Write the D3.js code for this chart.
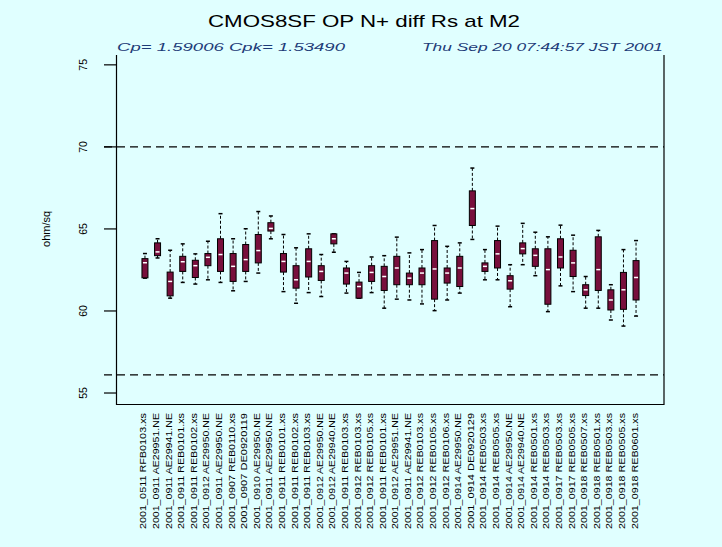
<!DOCTYPE html>
<html>
<head>
<meta charset="utf-8">
<script src="https://cdn.jsdelivr.net/npm/d3@7"></script>
<style>
  html, body { margin: 0; padding: 0; background: #e0ffff; }
  svg { display: block; }
  text { font-family: "Liberation Sans", Arial, sans-serif; }
</style>
</head>
<body>
<svg id="chart" width="722" height="547"></svg>
<script>
// Lot / wafer identifiers along the x axis
const lots = [
  "2001_0511 RFB0103.xs", "2001_0911 AE29951.NE", "2001_0911 AE29941.NE", "2001_0911 REB0101.xs",
  "2001_0911 REB0102.xs", "2001_0912 AE29950.NE", "2001_0911 AE29950.NE", "2001_0907 REB0110.xs",
  "2001_0907 DE0920119", "2001_0910 AE29950.NE", "2001_0911 AE29950.NE", "2001_0911 REB0101.xs",
  "2001_0911 REB0102.xs", "2001_0911 REB0103.xs", "2001_0912 AE29950.NE", "2001_0912 AE29940.NE",
  "2001_0911 REB0103.xs", "2001_0912 REB0103.xs", "2001_0912 REB0105.xs", "2001_0911 REB0101.xs",
  "2001_0912 AE29951.NE", "2001_0911 AE29941.NE", "2001_0912 REB0103.xs", "2001_0912 REB0105.xs",
  "2001_0912 REB0106.xs", "2001_0914 AE29950.NE", "2001_0914 DE0920129", "2001_0914 REB0503.xs",
  "2001_0914 REB0505.xs", "2001_0914 AE29950.NE", "2001_0914 AE29940.NE", "2001_0914 REB0501.xs",
  "2001_0914 REB0503.xs", "2001_0917 REB0503.xs", "2001_0917 REB0505.xs", "2001_0918 REB0507.xs",
  "2001_0918 REB0501.xs", "2001_0918 REB0503.xs", "2001_0918 REB0505.xs", "2001_0918 REB0601.xs"
];

// Five-number summaries per lot (ohm/sq)
const whiskerLow = [62.00, 63.23, 60.78, 61.74, 61.64, 61.90, 61.74, 61.23, 61.80, 62.31,
                    64.40, 61.18, 60.47, 61.12, 60.88, 63.58, 61.09, 60.78, 61.12, 60.17,
                    60.72, 60.67, 60.43, 60.02, 60.67, 61.09, 64.36, 61.90, 61.90, 60.26,
                    62.82, 62.15, 59.96, 61.53, 61.18, 60.17, 60.17, 59.45, 59.08, 59.69];
const q1         = [62.02, 63.37, 60.92, 62.41, 62.04, 62.76, 62.41, 61.80, 62.41, 62.93,
                    64.87, 62.37, 61.39, 62.07, 61.86, 64.09, 61.64, 60.78, 61.80, 61.25,
                    61.60, 61.60, 61.60, 60.72, 61.70, 61.49, 65.21, 62.41, 62.62, 61.33,
                    63.48, 62.72, 60.41, 62.62, 62.10, 60.94, 61.25, 60.06, 60.10, 60.67];
const medians    = [62.94, 63.60, 61.80, 63.00, 62.76, 63.27, 63.44, 62.72, 63.13, 63.68,
                    65.03, 63.02, 61.90, 63.02, 62.41, 64.40, 62.31, 61.49, 62.35, 62.10,
                    62.62, 62.00, 62.31, 62.56, 62.31, 62.62, 66.24, 62.72, 63.48, 61.84,
                    63.80, 63.39, 62.52, 63.29, 62.93, 61.29, 62.52, 60.67, 61.29, 62.04];
const q3         = [63.19, 64.15, 62.37, 63.33, 63.09, 63.50, 64.40, 63.50, 64.05, 64.66,
                    65.38, 63.50, 62.76, 63.79, 62.76, 64.70, 62.62, 61.76, 62.76, 62.72,
                    63.33, 62.31, 62.62, 64.29, 62.62, 63.33, 67.32, 62.93, 64.29, 62.15,
                    64.15, 63.79, 63.79, 64.40, 63.70, 61.60, 64.52, 61.29, 62.35, 63.07];
const whiskerHigh= [63.50, 64.40, 63.70, 64.09, 63.48, 64.25, 65.93, 64.40, 65.01, 66.06,
                    65.79, 64.66, 63.85, 64.70, 63.44, 64.70, 63.02, 62.35, 63.29, 63.37,
                    64.50, 63.54, 63.74, 65.21, 63.94, 64.15, 68.71, 63.74, 65.17, 62.82,
                    65.34, 64.80, 64.52, 65.23, 64.62, 62.10, 64.91, 61.60, 63.74, 64.29];

// Specification limits (dashed reference lines) and axis ticks
const specLimits = [70, 56.1];
const yTicks = [55, 60, 65, 70, 75];

const titleText = "CMOS8SF OP N+ diff Rs at M2";
const capText = "Cp= 1.59006   Cpk= 1.53490";
const dateText = "Thu Sep 20 07:44:57 JST 2001";
const yLabel = "ohm/sq";

const svg = d3.select("#chart");
const W = 722, H = 547;
const plotL = 116.5, plotR = 664, plotT = 55, plotB = 404.5;

svg.append("rect").attr("width", W).attr("height", H).attr("fill", "#e0ffff");

const x = d3.scaleLinear().domain([-1.26, 42.22]).range([plotL, plotR]);
const y = d3.scaleLinear().domain([54.3, 75.6]).range([plotB, plotT]);

const boxColor = "#780f3c";
const boxW = 6, capW = 4;

// Title and subtitles (wide device font, so glyphs are stretched)
svg.append("text").attr("x", 208).attr("y", 27)
  .attr("font-size", 17).attr("textLength", 312).attr("lengthAdjust", "spacingAndGlyphs")
  .attr("fill", "#000").text(titleText);
svg.append("text").attr("x", 117).attr("y", 51).attr("font-size", 10.5)
  .attr("font-style", "italic").attr("textLength", 228).attr("lengthAdjust", "spacingAndGlyphs")
  .attr("fill", "#1d3b78").text(capText);
svg.append("text").attr("x", 422).attr("y", 51).attr("font-size", 10.5)
  .attr("font-style", "italic").attr("textLength", 241).attr("lengthAdjust", "spacingAndGlyphs")
  .attr("fill", "#1d3b78").text(dateText);

// Frame: left, bottom and right sides
svg.append("path")
  .attr("d", `M${plotL},${plotT}V${plotB}H${plotR}V${plotT}`)
  .attr("fill", "none").attr("stroke", "#000").attr("stroke-width", 1.2);

// Y axis ticks and rotated labels
const yAxis = svg.append("g");
yTicks.forEach(t => {
  yAxis.append("line").attr("x1", 104).attr("x2", plotL).attr("y1", y(t)).attr("y2", y(t))
    .attr("stroke", "#000").attr("stroke-width", 1.2);
  yAxis.append("text").attr("transform", `translate(87,${y(t)}) rotate(-90)`)
    .attr("text-anchor", "middle").attr("font-size", 10.5).attr("fill", "#000").text(t);
});
svg.append("text").attr("transform", `translate(50,${y(65)}) rotate(-90)`)
  .attr("text-anchor", "middle").attr("font-size", 11).attr("fill", "#000").text(yLabel);

// Specification limit lines
specLimits.forEach(v => {
  svg.append("line").attr("x1", 104).attr("x2", plotR).attr("y1", y(v)).attr("y2", y(v))
    .attr("stroke", "#000").attr("stroke-width", 1.3).attr("stroke-dasharray", "8,5");
});

// Box plots
const boxes = svg.append("g").selectAll("g").data(lots).join("g")
  .attr("transform", (d, i) => `translate(${x(i + 1)},0)`);

boxes.append("line").attr("y1", (d, i) => y(q3[i])).attr("y2", (d, i) => y(whiskerHigh[i]))
  .attr("stroke", "#000").attr("stroke-dasharray", "3,2");
boxes.append("line").attr("y1", (d, i) => y(q1[i])).attr("y2", (d, i) => y(whiskerLow[i]))
  .attr("stroke", "#000").attr("stroke-dasharray", "3,2");
boxes.append("line").attr("x1", -capW / 2).attr("x2", capW / 2)
  .attr("y1", (d, i) => y(whiskerHigh[i])).attr("y2", (d, i) => y(whiskerHigh[i]))
  .attr("stroke", "#000").attr("stroke-width", 1.5);
boxes.append("line").attr("x1", -capW / 2).attr("x2", capW / 2)
  .attr("y1", (d, i) => y(whiskerLow[i])).attr("y2", (d, i) => y(whiskerLow[i]))
  .attr("stroke", "#000").attr("stroke-width", 1.5);
boxes.append("rect").attr("x", -boxW / 2).attr("width", boxW)
  .attr("y", (d, i) => y(q3[i])).attr("height", (d, i) => Math.max(1, y(q1[i]) - y(q3[i])))
  .attr("fill", boxColor).attr("stroke", "#000").attr("stroke-width", 1);
boxes.append("line").attr("x1", -boxW / 2 + 1).attr("x2", boxW / 2 - 1)
  .attr("y1", (d, i) => y(medians[i])).attr("y2", (d, i) => y(medians[i]))
  .attr("stroke", "#fff").attr("stroke-width", 1.5);

// Vertical lot labels under the plot
boxes.append("text").attr("transform", "translate(1.5,413) rotate(-90)")
  .attr("text-anchor", "end").attr("font-size", 9.5)
  .attr("textLength", 116).attr("lengthAdjust", "spacingAndGlyphs").attr("fill", "#000")
  .text(d => d);
</script>
</body>
</html>
